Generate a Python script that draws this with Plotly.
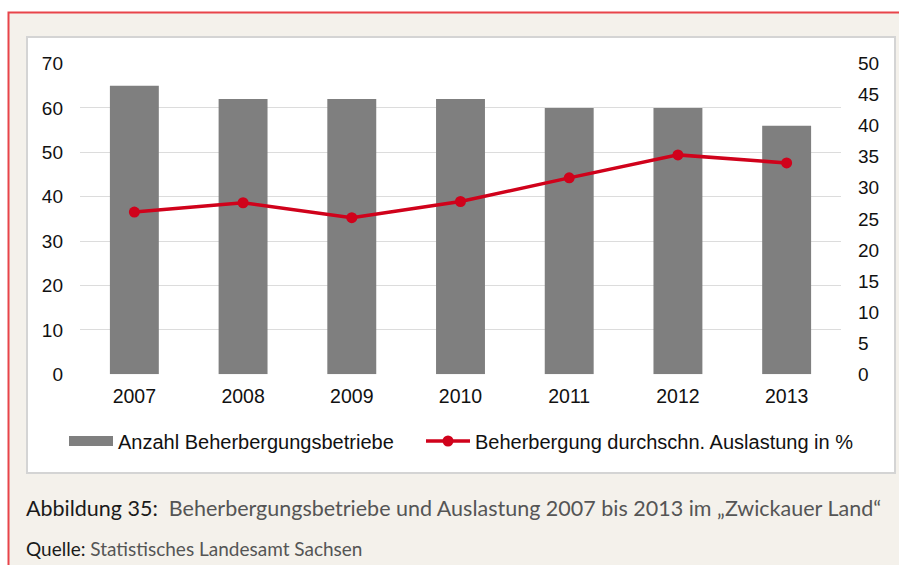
import plotly.graph_objects as go

years = ["2007", "2008", "2009", "2010", "2011", "2012", "2013"]
betriebe = [65, 62, 62, 62, 60, 60, 56]
auslastung = [26.1, 27.6, 25.2, 27.8, 31.6, 35.3, 34.0]
left_ticks = [0, 10, 20, 30, 40, 50, 60, 70]
right_ticks = [0, 5, 10, 15, 20, 25, 30, 35, 40, 45, 50]

W, H = 899, 565
def px(x):
    return x / W
def py(y):
    return 1 - y / H

BAR = "#7f7f7f"
RED = "#d0021b"
FONT = "Liberation Sans, Arial, sans-serif"

fig = go.Figure()
fig.add_trace(go.Bar(x=years, y=betriebe, marker=dict(color=BAR, line=dict(width=0)),
                     name="Anzahl Beherbergungsbetriebe", showlegend=False, yaxis="y"))
# legend proxy for bar (wide rectangle)
fig.add_trace(go.Scatter(x=[None], y=[None], mode="lines", line=dict(color=BAR, width=12),
                         name="Anzahl Beherbergungsbetriebe", yaxis="y", legend="legend"))
fig.add_trace(go.Scatter(x=years, y=auslastung, mode="lines+markers",
                         line=dict(color=RED, width=3.5), marker=dict(color=RED, size=11),
                         name="Beherbergung durchschn. Auslastung in %", yaxis="y2",
                         legend="legend2"))

shapes = [
    dict(type="rect", xref="paper", yref="paper", x0=px(8.5), x1=px(910), y0=py(12.5), y1=py(580),
         fillcolor="#f4f1eb", line=dict(color="#e8444a", width=2), layer="below"),
    dict(type="rect", xref="paper", yref="paper", x0=px(27), x1=px(895), y0=py(37), y1=py(473),
         fillcolor="#ffffff", line=dict(color="#d4d4d4", width=2), layer="below"),
]

annotations = [
    dict(xref="paper", yref="paper", x=px(24), y=py(508), xanchor="left", yanchor="middle",
         showarrow=False, align="left",
         text="<span style='color:#1a1a1a'>Abbildung 35:</span>  Beherbergungsbetriebe und Auslastung 2007 bis 2013 im \u201eZwickauer Land\u201c",
         font=dict(family="Lato, sans-serif", size=21.5, color="#555555")),
    dict(xref="paper", yref="paper", x=px(24), y=py(548), xanchor="left", yanchor="middle",
         showarrow=False, align="left",
         text="<span style='color:#1a1a1a'>Quelle:</span> Statistisches Landesamt Sachsen",
         font=dict(family="Lato, sans-serif", size=19, color="#555555")),
]

legend_common = dict(orientation="h", yanchor="middle", xanchor="left",
                     bgcolor="rgba(0,0,0,0)", font=dict(size=20), itemwidth=44)

fig.update_layout(
    width=W, height=H,
    margin=dict(l=0, r=0, t=0, b=0, autoexpand=False),
    paper_bgcolor="#ffffff",
    plot_bgcolor="rgba(0,0,0,0)",
    bargap=0.55,
    font=dict(family=FONT, size=19.5, color="#111111"),
    xaxis=dict(domain=[px(80), px(841)], showgrid=False, showline=False, zeroline=False,
               ticks="", tickfont=dict(size=19.5), ticklabelstandoff=8),
    yaxis=dict(domain=[py(374.3), py(63.5)], range=[0, 70], tickvals=left_ticks,
               showgrid=True, gridcolor="#dcdcdc", gridwidth=1.3, zeroline=False, showline=False,
               ticks="", tickfont=dict(size=19), ticklabelstandoff=16),
    yaxis2=dict(overlaying="y", side="right", range=[0, 50], tickvals=right_ticks,
                showgrid=False, zeroline=False, showline=False, ticks="",
                tickfont=dict(size=19), ticklabelstandoff=16, anchor="x"),
    legend=dict(x=px(64), y=py(441), **legend_common),
    legend2=dict(x=px(421), y=py(441), **legend_common),
    shapes=shapes,
    annotations=annotations,
)

fig.write_html("out.html", config={"displayModeBar": False},
               post_script="document.body.style.margin='0';document.body.style.overflow='hidden';")
